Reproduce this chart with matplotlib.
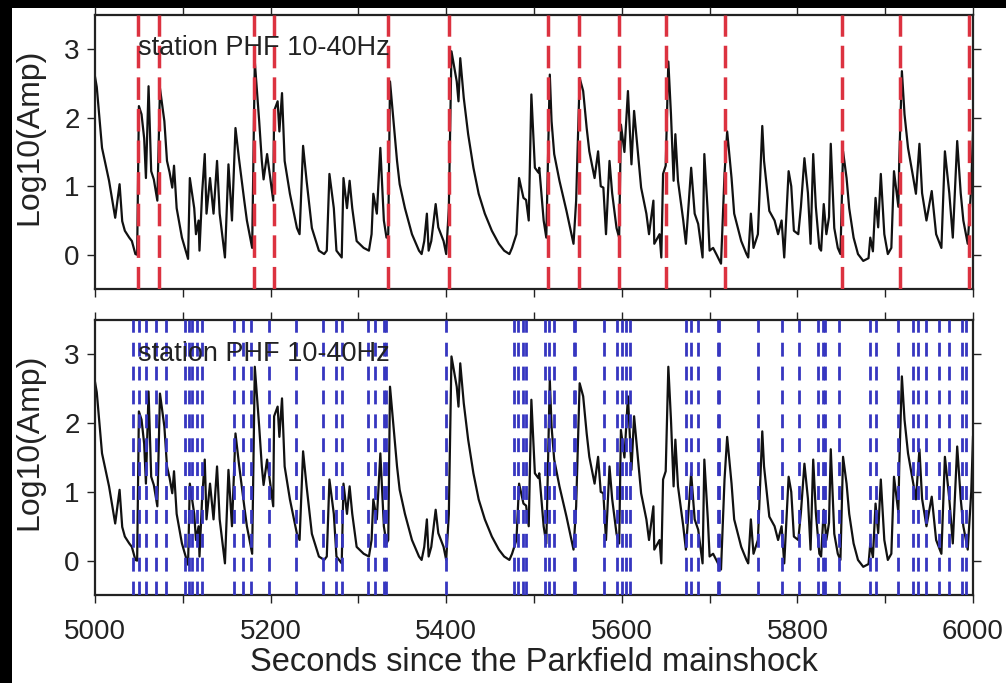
import numpy as np
import matplotlib.pyplot as plt
from matplotlib.patches import Rectangle

plt.rcParams['font.family'] = ['Liberation Sans', 'DejaVu Sans']

# Envelope of the 10-40Hz record (seconds, log10 amplitude)
t_sec = [5000, 5002, 5008, 5016, 5023, 5028, 5031, 5034, 5039, 5042, 5046, 5048,
         5050, 5053, 5056, 5058, 5061, 5064, 5067, 5071, 5074, 5079, 5082, 5085,
         5088, 5090, 5093, 5099, 5106, 5108, 5113, 5115, 5118, 5119, 5122, 5125,
         5127, 5131, 5135, 5139, 5142, 5148, 5152, 5156, 5160, 5164, 5170, 5173,
         5179, 5182, 5187, 5190, 5192, 5196, 5199, 5203, 5204, 5208, 5210, 5213,
         5216, 5222, 5230, 5233, 5237, 5241, 5247, 5255, 5261, 5264, 5267, 5272,
         5275, 5281, 5283, 5287, 5290, 5293, 5298, 5306, 5312, 5315, 5317, 5321,
         5325, 5329, 5332, 5334, 5336, 5340, 5344, 5347, 5353, 5361, 5369, 5372,
         5375, 5378, 5380, 5383, 5388, 5391, 5394, 5397, 5400, 5403, 5406, 5412,
         5414, 5416, 5420, 5425, 5431, 5437, 5444, 5452, 5460, 5466, 5472, 5475,
         5480, 5483, 5488, 5491, 5494, 5497, 5501, 5505, 5506, 5511, 5514, 5518,
         5520, 5523, 5529, 5537, 5545, 5548, 5552, 5556, 5560, 5563, 5569, 5573,
         5576, 5579, 5582, 5586, 5589, 5594, 5597, 5599, 5603, 5607, 5611, 5614,
         5619, 5622, 5628, 5631, 5636, 5637, 5643, 5645, 5647, 5650, 5653, 5656,
         5659, 5661, 5664, 5670, 5673, 5679, 5683, 5687, 5692, 5694, 5698, 5700,
         5704, 5708, 5713, 5717, 5720, 5725, 5728, 5736, 5742, 5744, 5747, 5750,
         5755, 5760, 5762, 5768, 5774, 5778, 5782, 5785, 5790, 5793, 5796, 5801,
         5804, 5808, 5812, 5815, 5818, 5821, 5825, 5827, 5830, 5833, 5836, 5838,
         5842, 5846, 5849, 5852, 5856, 5859, 5864, 5869, 5875, 5881, 5883, 5886,
         5889, 5892, 5895, 5899, 5903, 5907, 5910, 5915, 5916, 5919, 5922, 5926,
         5932, 5935, 5939, 5942, 5947, 5953, 5958, 5964, 5968, 5973, 5977, 5982,
         5986, 5989, 5994, 5998, 6000]
log_amp = [2.6, 2.45, 1.56, 1.08, 0.54, 1.03, 0.49, 0.35, 0.25, 0.2, 0.01, 0.0,
           2.17, 2.05, 1.7, 1.12, 2.46, 1.22, 1.1, 0.79, 2.43, 1.95, 1.37, 1.2,
           0.98, 1.3, 0.68, 0.25, -0.06, 1.12, 0.68, 0.3, 0.5, 0.06, 0.9, 1.47,
           0.6, 1.12, 0.6, 1.37, 0.6, -0.04, 1.32, 0.5, 1.85, 1.4, 0.79, 0.5,
           0.1, 2.82, 1.95, 1.37, 1.1, 1.47, 1.18, 0.79, 2.1, 2.24, 1.8, 2.36,
           1.37, 0.89, 0.39, 0.3, 1.59, 1.08, 0.39, 0.06, 0.01, 0.06, 1.18, 0.68,
           0.06, -0.04, 1.12, 0.68, 1.08, 0.68, 0.2, 0.1, 0.06, 0.3, 0.89, 0.6,
           1.56, 0.5, 0.25, 0.3, 2.53, 1.95, 1.37, 1.03, 0.68, 0.3, 0.06, 0.01,
           0.2, 0.6, 0.06, 0.2, 0.74, 0.4, 0.3, 0.2, 0.01, 0.68, 2.97, 2.53,
           2.24, 2.87, 2.29, 1.76, 1.27, 0.89, 0.6, 0.35, 0.16, 0.06, 0.01, 0.1,
           0.3, 1.12, 0.83, 0.8, 0.5, 2.34, 1.27, 1.2, 1.27, 0.5, 0.25, 2.63,
           1.95, 1.47, 1.08, 0.64, 0.16, 0.79, 2.58, 2.39, 1.85, 1.51, 1.12, 1.51,
           1.0, 0.98, 0.3, 1.37, 0.9, 0.39, 0.25, 1.9, 1.5, 2.39, 1.32, 2.1,
           1.4, 0.98, 0.6, 0.3, 0.79, 0.16, 0.3, -0.04, 1.18, 1.3, 2.82, 2.05,
           1.08, 1.76, 1.08, 0.5, 0.16, 1.27, 0.6, 0.45, -0.04, 1.47, 0.6, 0.06,
           0.1, 0.0, -0.13, 1.18, 1.8, 1.12, 0.6, 0.2, 0.01, -0.04, 0.6, 0.1,
           0.3, 1.88, 1.37, 0.64, 0.5, 0.3, 0.5, -0.04, 1.22, 1.0, 0.35, 0.3,
           0.7, 1.41, 0.9, 0.16, 1.47, 0.7, 0.1, 0.06, 0.74, 0.3, 0.55, 1.62,
           0.39, 0.1, 0.01, 1.51, 1.12, 0.68, 0.25, 0.01, -0.09, -0.05, 0.25, 0.05,
           0.83, 0.4, 1.18, 0.3, 0.01, 0.1, 1.22, 0.7, 1.37, 2.68, 2.05, 1.56,
           1.12, 0.89, 1.62, 0.9, 0.5, 0.93, 0.3, 0.1, 1.51, 0.9, 0.25, 1.66,
           0.9, 0.5, 0.16, 1.0, 1.8]

# event onset times marked in each panel
red_events = [5049, 5073, 5181, 5204, 5334, 5403, 5516, 5551, 5597, 5650,
              5717, 5851, 5917, 5995]
blue_events = [5043, 5050, 5058, 5070, 5081, 5102, 5107, 5111, 5116, 5122,
               5158, 5168, 5178, 5198, 5229, 5260, 5275, 5281, 5311, 5319,
               5329, 5331, 5400, 5477, 5482, 5488, 5491, 5512, 5517, 5523,
               5545, 5547, 5580, 5594, 5600, 5605, 5609, 5673, 5679, 5687,
               5709, 5711, 5755, 5782, 5802, 5823, 5829, 5832, 5847, 5883,
               5890, 5915, 5932, 5937, 5947, 5961, 5973, 5988, 5992]

xticks_major = [5000, 5200, 5400, 5600, 5800, 6000]
xticks_minor = [5100, 5300, 5500, 5700, 5900]
yticks = [0, 1, 2, 3]

fig = plt.figure(figsize=(10.06, 6.83), dpi=100)
fig.patch.set_facecolor('black')
bg = Rectangle((12 / 1006, 0), 1, 1 - 8 / 683, transform=fig.transFigure,
               facecolor='white', edgecolor='none', zorder=-10)
fig.add_artist(bg)

left, width = 95 / 1006, 878 / 1006
ax1 = fig.add_axes([left, 1 - 289 / 683, width, 274 / 683])
ax2 = fig.add_axes([left, 1 - 595 / 683, width, 275 / 683])

# (axes, events, colour, line width, dash pattern)
panels = [(ax1, red_events, '#dc3240', 2.5, (0, (6.5, 2.6))),
          (ax2, blue_events, '#3636c0', 2.0, (0, (5.0, 3.6)))]
for ax, events, col, lw, dash in panels:
    ax.plot(t_sec, log_amp, color='#111111', lw=1.6, zorder=2)
    for ev in events:
        ax.axvline(ev, color=col, lw=lw, ls=dash, zorder=3)
    ax.set_xlim(5000, 6000)
    ax.set_ylim(-0.5, 3.5)
    ax.set_yticks(yticks)
    ax.set_xticks(xticks_major)
    ax.set_xticks(xticks_minor, minor=True)
    ax.tick_params(axis='both', which='both', direction='out', length=6, width=1,
                   top=True, right=True, labelsize=20, colors='#222222', pad=5)
    ax.tick_params(axis='x', pad=11)
    ax.set_ylabel('Log10(Amp)', fontsize=23, color='#222222')
    ax.yaxis.set_label_coords(-0.058, 0.557)
    ax.text(0.049, 0.878, 'station PHF 10-40Hz', transform=ax.transAxes,
            fontsize=19.5, color='#222222', va='center', ha='left', zorder=4)
    for sp in ax.spines.values():
        sp.set_linewidth(1.6)
        sp.set_color('#222222')
    ax.set_facecolor('white')

ax1.tick_params(axis='x', labelbottom=False)
ax2.set_xlabel('Seconds since the Parkfield mainshock', fontsize=23.5, color='#222222', labelpad=2)

plt.savefig('out.png', dpi=100, facecolor=fig.get_facecolor())
